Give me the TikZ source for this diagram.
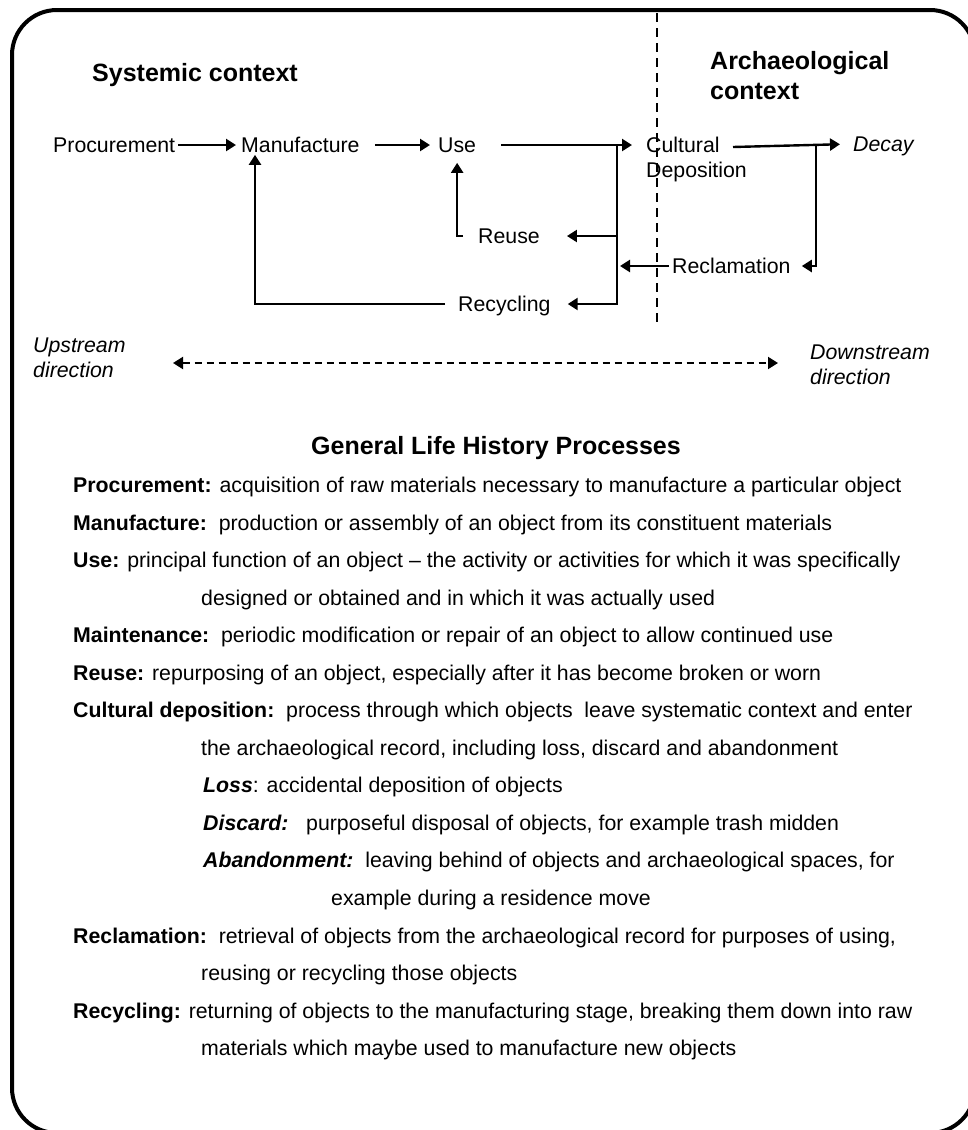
\documentclass[tikz,border=0pt]{standalone}
\usepackage{fontspec}
\setmainfont{Liberation Sans}
\usetikzlibrary{arrows.meta,calc}
\newcommand{\fs}{\fontsize{21.3}{25.6}\selectfont}
\newcommand{\ft}{\fontsize{25}{30}\selectfont\bfseries}
\begin{document}
\begin{tikzpicture}[x=1pt,y=-1pt,
  lbl/.style={font=\fs, inner xsep=3pt, inner ysep=2pt, text height=15.3pt, text depth=0pt, anchor=west},
  mlbl/.style={font=\fs, inner sep=0pt, anchor=north west, align=left},
  ttl/.style={font=\ft, inner sep=0pt, anchor=north west, align=left},
  body/.style={font=\fs, inner sep=0pt, anchor=base west},
  arr/.style={line width=2.4pt, -{Triangle[length=10pt,width=12pt]}},
  darr/.style={line width=2pt, dash pattern=on 7pt off 5pt, {Triangle[length=10pt,width=12pt]}-{Triangle[length=10pt,width=12pt]}},
  sepline/.style={line width=2pt, dash pattern=on 9pt off 6pt},
  frame/.style={line width=4pt, rounded corners=45pt}]
\useasboundingbox (0,0) rectangle (968,1130);
\begin{scope}
\clip (0,0) rectangle (968,1130);
\draw[frame] (12,10) rectangle (975,1133);
\end{scope}

% titles
\node[ttl] (sys) at (92,63) {Systemic context};
\node[ttl] (arch) at (710,51) {Archaeological\\context};

% process nodes
\node[lbl] (proc) at (50,145) {Procurement};
\node[lbl] (manu) at (238,145) {Manufacture};
\node[lbl] (use) at (435,145) {Use};
\node[mlbl] (cult) at (646,136.5) {Cultural\\Deposition};
\node[lbl, font=\fs\itshape] (decay) at (850,144) {Decay};
\node[lbl] (reuse) at (475,236) {Reuse};
\node[lbl] (recl) at (669,266) {Reclamation};
\node[lbl] (recyc) at (455,304) {Recycling};

\node[mlbl, font=\fs\itshape] (up) at (33,337.5) {Upstream\\direction};
\node[mlbl, font=\fs\itshape] (down) at (810,344.5) {Downstream\\direction};

% helper coordinates
\coordinate (tj) at (617,145);
\coordinate (dst) at (733,147);
\coordinate (dj) at (816,144.7);
\coordinate (septop) at (657,13);
\coordinate (sepbot) at (657,322);
\coordinate (ua) at (173,363);
\coordinate (da) at (778,363);

% connectors
\draw[arr, shorten >=2pt] (proc.east) -- (manu.west);
\draw[arr, shorten <=12pt, shorten >=5pt] (manu.east) -- (use.west);
\draw[arr, shorten <=22pt, shorten >=14pt] (use.east) -- (use.east -| cult.west);
\draw[arr, shorten >=10pt] (dst) -- (decay.west);
\draw[arr, shorten >=8pt] (dj) |- (recl.east);
\draw[arr, shorten >=14pt] (tj) |- (recyc.east);
\draw[arr, shorten >=24pt] (tj |- reuse.east) -- (reuse.east);
\draw[arr, shorten >=3pt] (recl.west) -- (recl.west -| tj);
\draw[arr, shorten >=8pt] ([xshift=-12pt]reuse.west) -| (use.south);
\draw[arr] ([xshift=-10pt]recyc.west) -| ([xshift=17pt]manu.south west);

\draw[sepline] (septop) -- (sepbot);
\draw[darr] (ua) -- (da);

% lower text
\node[font=\ft, inner sep=0pt, anchor=base] (glh) at (496,454) {General Life History Processes};
\node[body] (l1) at (73,492.6) {\textbf{Procurement:} acquisition of raw materials necessary to manufacture a particular object};
\node[body] (l2) at (73,530.1) {\textbf{Manufacture:}\ \ production or assembly of an object from its constituent materials};
\node[body] (l3) at (73,567.7) {\textbf{Use:} principal function of an object – the activity or activities for which it was specifically};
\node[body] (l4) at (201,605.2) {designed or obtained and in which it was actually used};
\node[body] (l5) at (73,642.7) {\textbf{Maintenance:}\ \ periodic modification or repair of an object to allow continued use};
\node[body] (l6) at (73,680.3) {\textbf{Reuse:} repurposing of an object, especially after it has become broken or worn};
\node[body] (l7) at (73,717.8) {\textbf{Cultural deposition:}\ \ process through which objects\ \ leave systematic context and enter};
\node[body] (l8) at (201,755.3) {the archaeological record, including loss, discard and abandonment};
\node[body] (l9) at (203,792.8) {\textbf{\textit{Loss}}: accidental deposition of objects};
\node[body] (l10) at (203,830.4) {\textbf{\textit{Discard:}}\ \ \ purposeful disposal of objects, for example trash midden};
\node[body] (l11) at (203,867.9) {\textbf{\textit{Abandonment:}}\ \ leaving behind of objects and archaeological spaces, for};
\node[body] (l12) at (331,905.4) {example during a residence move};
\node[body] (l13) at (73,943.0) {\textbf{Reclamation:}\ \ retrieval of objects from the archaeological record for purposes of using,};
\node[body] (l14) at (201,980.5) {reusing or recycling those objects};
\node[body] (l15) at (73,1018.0) {\textbf{Recycling:} returning of objects to the manufacturing stage, breaking them down into raw};
\node[body] (l16) at (201,1055.6) {materials which maybe used to manufacture new objects};
\end{tikzpicture}
\end{document}
